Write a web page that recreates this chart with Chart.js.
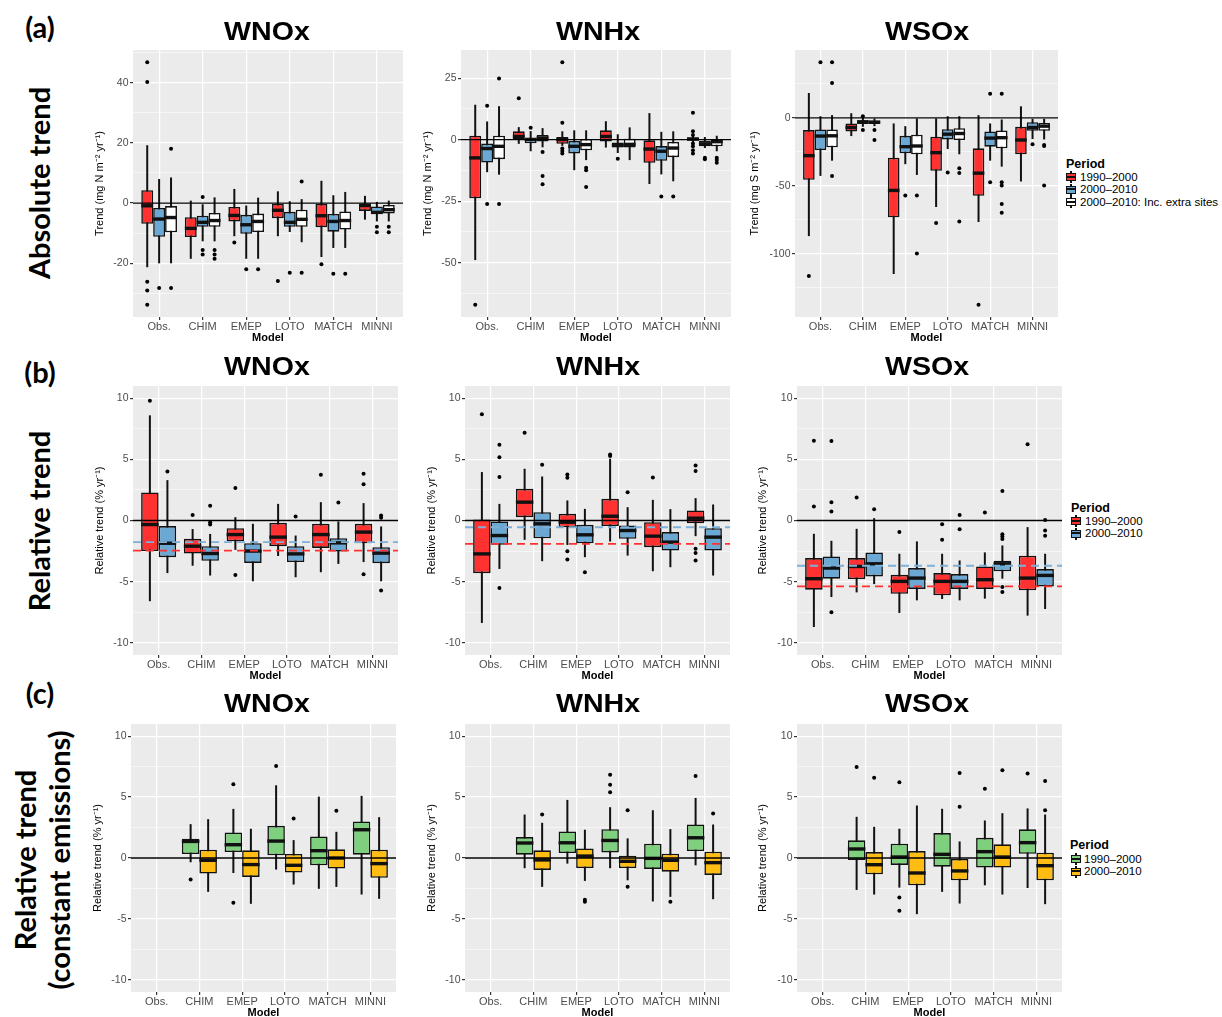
<!DOCTYPE html>
<html>
<head>
<meta charset="utf-8">
<script src="https://cdn.jsdelivr.net/npm/chart.js@4.4.1/dist/chart.umd.min.js"></script>
<style>
html,body{margin:0;padding:0;background:#fff;}
body{width:1222px;height:1017px;overflow:hidden;position:relative;font-family:"Liberation Sans",Arial,sans-serif;}
canvas.pnl{position:absolute;}
.ttl{position:absolute;font-weight:bold;font-size:26px;line-height:26px;white-space:nowrap;transform:translateX(-50%) scaleX(1.1);color:#000;}
.row{position:absolute;font-family:Lato,"Liberation Sans",sans-serif;font-weight:bold;font-size:29px;line-height:30px;white-space:nowrap;color:#000;transform:translate(-50%,-50%);}
.rot{transform:translate(-50%,-50%) rotate(-90deg);}
.lgt{position:absolute;font-weight:bold;font-size:12.5px;line-height:14px;color:#000;white-space:nowrap;}
.lgi{position:absolute;font-size:11.5px;line-height:13px;color:#000;white-space:nowrap;}
.key{position:absolute;width:10px;height:12px;}
.key .wh{position:absolute;left:4px;top:0;width:2px;height:12px;background:#111;}
.key .bx{position:absolute;left:0;top:2px;width:10px;height:8px;box-sizing:border-box;border:1.5px solid #111;}
.key .md{position:absolute;left:0;top:1.5px;width:100%;height:2px;background:#111;}
</style>
</head>
<body>
<script>
// ---------------- DATA ----------------
const CATEGORIES = ['Obs.', 'CHIM', 'EMEP', 'LOTO', 'MATCH', 'MINNI'];
const PERIODS_ABS = ['1990\u20132000', '2000\u20132010', '2000\u20132010: Inc. extra sites'];
const PERIODS_REL = ['1990\u20132000', '2000\u20132010'];
const SPECIES = ['WNOx', 'WNHx', 'WSOx'];

// each entry: [lower whisker, Q1, median, Q3, upper whisker] per category
// (a) absolute trend
const A_WNOX_P1 = [[-21.3,-6.9,-0.9,4.3,19.2],[-18.5,-11.3,-8.4,-4.7,0.8],[-11,-6.1,-4.1,-1.3,4.7],[-11,-5.0,-2.4,-0.3,3.9],[-17.9,-8.0,-4.2,-0.3,7.4],[-5.5,-2.6,-0.8,-0.1,2.4]];
const A_WNOX_P1_OUT = [[46.8,40.2,-26.1,-29,-33.8],[],[-13.1],[-25.9],[-20.3],[]];
const A_WNOX_P2 = [[-20,-11.2,-5.3,-1.6,8.0],[-12.7,-7.9,-6.4,-4.2,-0.4],[-18.5,-10.2,-7.2,-3.9,-0.8],[-9.6,-7.9,-6.4,-2.9,0.6],[-14.9,-9.5,-6.1,-3.6,2.6],[-6.1,-3.5,-3.1,-1.1,0.4]];
const A_WNOX_P2_OUT = [[-28.2],[2.0,-15.6,-17.1],[-22],[-23.1],[-23.5],[-7.9,-9.7]];
const A_WNOX_P3 = [[-20,-9.7,-4.8,-1.0,8.5],[-12.7,-7.9,-5.8,-3.3,1.9],[-18.5,-9.6,-6.1,-3.5,1.8],[-13,-7.9,-5.4,-2.2,1.3],[-14.9,-8.8,-5.8,-2.8,3.7],[-6.1,-3.5,-2.2,-0.6,0.8]];
const A_WNOX_P3_OUT = [[18,-28.2],[-15.6,-17.1,-18.5],[-22],[7.2,-23.1],[-23.5],[-7.9,-9.7]];

const A_WNHX_P1 = [[-48.9,-23.8,-7.4,1.6,14.2],[-1.7,0.3,1.3,3.4,5.1],[-2.5,-1.7,0.1,1.1,3.4],[-3.2,-0.7,1.3,3.8,7.5],[-18.0,-9.4,-3.8,0,10.8],[-1.2,-0.4,0.3,0.8,1.5]];
const A_WNHX_P1_OUT = [[-67.1],[16.8],[31.5,6.9,-3.6,-4.6,-5.6],[],[],[10.9,3.4,1.9,-1.6,-2.7,-4.3,-5.6]];
const A_WNHX_P2 = [[-13.2,-9.3,-3.6,-1.6,7.4],[-4.7,-1.5,0.1,0.7,3.5],[-12.4,-5.6,-2.7,-0.5,3.8],[-5.4,-3.2,-2.3,-1.1,2.2],[-14.1,-8.6,-4.7,-2.6,3.2],[-3.4,-2.7,-1.7,-0.4,1.1]];
const A_WNHX_P2_OUT = [[13.8,-26.1],[4.8],[],[-7.7],[-23.1],[-7.3,-7.9]];
const A_WNHX_P3 = [[-14.2,-7.9,-2.7,1.6,13.6],[-3.1,-0.7,0.7,1.9,4.7],[-8.3,-4.3,-2.0,0.3,3.8],[-8.3,-3.2,-1.9,0.4,5.0],[-16.9,-7.1,-3.4,-0.9,3.4],[-4.7,-2.7,-0.8,0.1,1.6]];
const A_WNHX_P3_OUT = [[24.9,-26.1],[-5.0,-14.8,-18.1],[-11.4,-12.4,-19.2],[],[-23.1],[-7.3,-8.3,-9.4]];

const A_WSOX_P1 = [[-87,-45.6,-27.8,-9.0,18.3],[-13.4,-10,-7.1,-4.1,3.4],[-114.9,-73.2,-53.4,-29.3,-4.1],[-65.6,-39,-25.6,-13.9,0],[-76.6,-57.3,-40.7,-22.4,2.0],[-46.8,-26.8,-16.3,-6.6,8.5]];
const A_WSOX_P1_OUT = [[-116.3],[],[],[-77.3],[-137.6],[]];
const A_WSOX_P2 = [[-42.7,-23.7,-13.4,-8.5,1.2],[-6.6,-4.6,-2.9,-2.0,0.3],[-34.1,-26.1,-21.2,-13.2,-6.1],[-22.9,-15.9,-12,-8.3,1.2],[-31.5,-21.2,-14.9,-10,-4.1],[-15.6,-9.5,-7.1,-3.2,-0.7]];
const A_WSOX_P2_OUT = [[41],[1.2,-9.0],[-57.1],[-40.2],[17.8,-47.3],[-19.5]];
const A_WSOX_P3 = [[-31.5,-21.7,-13.2,-8.5,2.0],[-6.1,-4.6,-3.2,-2.0,0],[-42,-26.8,-20.7,-12.4,0],[-26.8,-16.3,-11.5,-7.6,1.2],[-35.9,-22.4,-14.6,-9.3,-1.2],[-15.9,-9.5,-6.1,-3.7,-0.7]];
const A_WSOX_P3_OUT = [[41,25.6,-42.7],[-9.0,-16.3],[-57.1,-99.8],[-37.1,-40.5,-76.3],[17.8,-47.3,-49.8,-63.4,-69.8],[-20,-20.7,-49.8]];

// (b) relative trend
const B_WNOX_P1 = [[-6.6,-2.5,-0.33,2.3,8.6],[-3.7,-2.7,-2.1,-1.5,-0.7],[-2.4,-1.7,-1.15,-0.63,0.27],[-2.9,-2.1,-1.36,-0.19,1.36],[-4.23,-2.24,-1.15,-0.27,1.5],[-3.4,-1.86,-0.95,-0.27,1.42]];
const B_WNOX_P1_OUT = [[9.8],[0.46],[2.65,-4.45],[],[3.74],[3.82,2.97,-4.4]];
const B_WNOX_P2 = [[-4.3,-3.0,-1.86,-0.46,3.3],[-4.5,-3.3,-2.7,-2.1,-1.1],[-4.97,-3.47,-2.5,-1.86,-0.27],[-4.64,-3.4,-2.73,-2.1,-1.23],[-3.55,-2.54,-1.83,-1.45,-0.08],[-4.97,-3.49,-2.67,-2.18,-0.49]];
const B_WNOX_P2_OUT = [[4.0],[1.2,-0.14,-0.33],[],[0.33],[1.47],[0.41,0.22,-5.73]];
const B_WNOX_REF = [-2.46, -1.77];

const B_WNHX_P1 = [[-8.38,-4.31,-2.73,0.08,3.96],[-1.58,0.27,1.5,2.59,4.23],[-2.0,-0.55,-0.14,0.55,1.64],[-1.72,-0.46,0.35,1.77,5.05],[-4.15,-2.18,-1.28,-0.14,1.69],[-1.28,-0.22,0.19,0.82,1.83]];
const B_WNHX_P1_OUT = [[8.68],[7.18],[3.77,3.49,-2.51,-3.19],[5.4,5.27],[3.52],[4.5,4.04,-2.32,-2.65,-3.27]];
const B_WNHX_P2 = [[-3.96,-1.99,-1.23,-0.08,1.36],[-3.33,-1.45,-0.27,0.68,3.6],[-3.0,-1.86,-1.17,-0.35,0.95],[-2.87,-1.5,-0.82,-0.41,1.09],[-3.82,-2.46,-1.77,-0.95,0.93],[-4.5,-2.46,-1.36,-0.63,1.31]];
const B_WNHX_P2_OUT = [[6.19,5.18,3.55,-5.53],[4.56],[-4.23],[2.32],[],[]];
const B_WNHX_REF = [-1.91, -0.55];

const B_WSOX_P1 = [[-8.71,-5.66,-4.76,-3.07,-1.09],[-5.88,-4.79,-3.76,-3.07,-0.68],[-7.56,-5.99,-4.98,-4.44,-2.72],[-6.42,-6.12,-4.98,-4.3,-2.72],[-6.39,-5.6,-4.84,-3.76,-2.61],[-7.78,-5.71,-4.71,-2.88,-0.54]];
const B_WSOX_P1_OUT = [[6.53,1.14],[1.88],[-0.95],[-0.3,-1.58],[0.65],[6.23]];
const B_WSOX_P2 = [[-6.26,-4.76,-3.89,-2.94,-1.66],[-5.2,-4.57,-3.54,-2.61,0.19],[-6.53,-5.6,-4.71,-3.89,-1.71],[-6.53,-5.6,-4.98,-4.38,-3.27],[-4.76,-4.16,-3.54,-3.29,-2.04],[-7.24,-5.39,-4.49,-3.97,-2.72]];
const B_WSOX_P2_OUT = [[6.5,1.5,0.73,-7.51],[0.93],[],[0.44,-0.71],[2.42,-1.12,-1.31,-1.52,-5.44,-5.85],[0.05,-0.82,-1.25]];
const B_WSOX_REF = [-5.39, -3.7];

// (c) relative trend, constant emissions (no observations)
const C_WNOX_P1 = [null,[-0.35,0.33,1.36,1.58,2.78],[-1.23,0.49,1.09,2.1,4.03],[-0.95,0.22,1.39,2.64,5.97],[-2.53,-0.6,0.6,1.77,5.04],[-3.0,0.27,2.32,3.0,5.1]];
const C_WNOX_P1_OUT = [[],[-1.77],[6.05,-3.68],[7.55],[],[]];
const C_WNOX_P2 = [null,[-2.78,-1.28,-0.19,0.68,3.19],[-3.76,-1.55,-0.54,0.63,2.4],[-2.18,-1.2,-0.6,0.33,1.47],[-2.37,-0.87,0,0.71,2.15],[-3.35,-1.63,-0.46,0.68,3.35]];
const C_WNOX_P2_OUT = [[],[],[],[3.24],[3.87],[]];

const C_WNHX_P1 = [null,[-0.84,0.27,1.23,1.72,3.57],[-0.46,0.41,1.25,2.18,4.77],[-0.84,0.46,1.44,2.37,4.17],[-3.57,-0.9,-0.03,1.17,3.92],[-0.6,0.57,1.66,2.75,4.93]];
const C_WNHX_P1_OUT = [[],[],[],[6.84,6.02,5.4],[],[6.73]];
const C_WNHX_P2 = [null,[-2.37,-0.98,-0.16,0.63,2.89],[-1.88,-0.82,0.16,0.79,2.32],[-1.83,-0.82,-0.27,0.19,1.61],[-3.19,-1.12,-0.19,0.35,2.37],[-3.38,-1.39,-0.38,0.52,2.75]];
const C_WNHX_P2_OUT = [[],[3.57],[-3.43,-3.6],[3.92,-2.37],[-3.6],[3.65]];

const C_WSOX_P1 = [null,[-2.62,-0.16,0.74,1.45,3.38],[-2.43,-0.57,0.08,1.17,2.4],[-2.78,-0.71,0.3,2.05,4.04],[-2.24,-0.79,0.52,1.66,3.08],[-2.46,0.35,1.26,2.35,4.07]];
const C_WSOX_P1_OUT = [[],[7.48],[6.22,-3.25,-4.34],[],[5.68],[6.93]];
const C_WSOX_P2 = [null,[-3.0,-1.34,-0.55,0.49,2.56],[-4.61,-2.24,-1.23,0.57,4.31],[-3.74,-1.83,-1.06,-0.08,1.36],[-3.0,-0.79,0.08,1.12,3.68],[-3.79,-1.83,-0.63,0.44,3.57]];
const C_WSOX_P2_OUT = [[],[6.58],[],[6.98,4.2],[7.2],[6.33,3.93]];

const REL_LIMITS = [-10, 10];

// ---------------- STYLE / LAYOUT ----------------
const COLORS_AB = ['#FF3131', '#6BA8D3', '#FFFFFF'];
const COLORS_C = ['#7ECF7E', '#FFBD14'];
const REF_COLORS = ['#FF3131', '#7FB0D8'];
const LINE = '#111111';
const CAT_PCT = 0.82;
const XMIN = -0.6, XMAX = 5.6;
const PT = 8, PR = 6, XH = 28;
const MEDIAN_PX = 3.4, WHISKER_PX = 2.0, BOX_BORDER = 1.6;

Chart.defaults.font.family = '"Liberation Sans", Arial, sans-serif';

const Y_ABS = ['Trend (mg N m\u207B\u00B2 yr\u207B\u00B9)', 'Trend (mg N m\u207B\u00B2 yr\u207B\u00B9)', 'Trend (mg S m\u207B\u00B2 yr\u207B\u00B9)'];
const Y_REL = 'Relative trend (% yr\u207B\u00B9)';

const PANELS = [
  {cl:93,  L:133, R:403,  T:50,  B:317, yTitle:Y_ABS[0], major:20, series:[[A_WNOX_P1,A_WNOX_P1_OUT],[A_WNOX_P2,A_WNOX_P2_OUT],[A_WNOX_P3,A_WNOX_P3_OUT]], colors:COLORS_AB},
  {cl:421, L:461, R:731,  T:50,  B:317, yTitle:Y_ABS[1], major:25, series:[[A_WNHX_P1,A_WNHX_P1_OUT],[A_WNHX_P2,A_WNHX_P2_OUT],[A_WNHX_P3,A_WNHX_P3_OUT]], colors:COLORS_AB},
  {cl:748, L:795, R:1058, T:50,  B:317, yTitle:Y_ABS[2], major:50, series:[[A_WSOX_P1,A_WSOX_P1_OUT],[A_WSOX_P2,A_WSOX_P2_OUT],[A_WSOX_P3,A_WSOX_P3_OUT]], colors:COLORS_AB},
  {cl:93,  L:133, R:398,  T:386, B:655, yTitle:Y_REL, major:5, limits:REL_LIMITS, ref:B_WNOX_REF, series:[[B_WNOX_P1,B_WNOX_P1_OUT],[B_WNOX_P2,B_WNOX_P2_OUT]], colors:COLORS_AB},
  {cl:425, L:465, R:730,  T:386, B:655, yTitle:Y_REL, major:5, limits:REL_LIMITS, ref:B_WNHX_REF, series:[[B_WNHX_P1,B_WNHX_P1_OUT],[B_WNHX_P2,B_WNHX_P2_OUT]], colors:COLORS_AB},
  {cl:756, L:797, R:1062, T:386, B:655, yTitle:Y_REL, major:5, limits:REL_LIMITS, ref:B_WSOX_REF, series:[[B_WSOX_P1,B_WSOX_P1_OUT],[B_WSOX_P2,B_WSOX_P2_OUT]], colors:COLORS_AB},
  {cl:91,  L:131, R:396,  T:724, B:992, yTitle:Y_REL, major:5, limits:REL_LIMITS, series:[[C_WNOX_P1,C_WNOX_P1_OUT],[C_WNOX_P2,C_WNOX_P2_OUT]], colors:COLORS_C},
  {cl:425, L:465, R:730,  T:724, B:992, yTitle:Y_REL, major:5, limits:REL_LIMITS, series:[[C_WNHX_P1,C_WNHX_P1_OUT],[C_WNHX_P2,C_WNHX_P2_OUT]], colors:COLORS_C},
  {cl:756, L:797, R:1062, T:724, B:992, yTitle:Y_REL, major:5, limits:REL_LIMITS, series:[[C_WSOX_P1,C_WSOX_P1_OUT],[C_WSOX_P2,C_WSOX_P2_OUT]], colors:COLORS_C},
];

const panelBg = {
  id: 'panelBg',
  beforeDraw(chart) {
    const a = chart.chartArea, ctx = chart.ctx;
    ctx.save(); ctx.fillStyle = '#EBEBEB';
    ctx.fillRect(a.left, a.top, a.right - a.left, a.bottom - a.top);
    ctx.restore();
  }
};

function yRange(p) {
  if (p.limits) {
    const span = p.limits[1] - p.limits[0];
    return [p.limits[0] - 0.05 * span, p.limits[1] + 0.05 * span];
  }
  let lo = Infinity, hi = -Infinity;
  p.series.forEach(([st, out]) => {
    st.forEach(s => { if (s) { lo = Math.min(lo, ...s); hi = Math.max(hi, ...s); } });
    out.forEach(o => o.forEach(v => { lo = Math.min(lo, v); hi = Math.max(hi, v); }));
  });
  const span = hi - lo;
  return [lo - 0.05 * span, hi + 0.05 * span];
}

function isMajor(v, major) {
  const r = v / major;
  return Math.abs(r - Math.round(r)) < 1e-6;
}

function build(p) {
  const cv = document.createElement('canvas');
  cv.className = 'pnl';
  const top = p.T - PT;
  const W = p.R - p.cl + PR;
  const H = p.B - top + XH;
  cv.width = W; cv.height = H;
  cv.style.left = p.cl + 'px'; cv.style.top = top + 'px';
  cv.style.width = W + 'px'; cv.style.height = H + 'px';
  document.body.appendChild(cv);

  const [ymin, ymax] = yRange(p);
  const major = p.major;
  const n = p.series.length;
  const unitPx = (p.R - p.L) / (XMAX - XMIN);
  const chunkPx = unitPx * CAT_PCT / n;
  const whiskerPct = WHISKER_PX / chunkPx;
  const halfMedian = (MEDIAN_PX / 2) * (ymax - ymin) / (p.B - p.T);  // half line thickness in data units
  const datasets = [];

  p.series.forEach(([stats, outs], i) => {
    const stack = 's' + i;
    const boxes = [], meds = [], whisk = [], pts = [];
    const dx = (i + 0.5 - n / 2) * CAT_PCT / n;
    stats.forEach((s, c) => {
      if (!s) return;
      boxes.push({x: c, y: [s[1], s[3]]});
      meds.push({x: c, y: [s[2] - halfMedian, s[2] + halfMedian]});
      whisk.push({x: c, y: [s[0], s[4]]});
    });
    outs.forEach((o, c) => o.forEach(v => pts.push({x: c + dx, y: v})));
    datasets.push({type: 'bar', stack, order: 3, data: boxes, backgroundColor: p.colors[i], borderColor: LINE,
      borderWidth: BOX_BORDER, borderSkipped: false, inflateAmount: 0, categoryPercentage: CAT_PCT, barPercentage: 1});
    datasets.push({type: 'bar', stack, order: 2, data: meds, backgroundColor: LINE, borderWidth: 0,
      inflateAmount: 0, categoryPercentage: CAT_PCT, barPercentage: 1});
    datasets.push({type: 'bar', stack, order: 4, data: whisk, backgroundColor: LINE, borderWidth: 0,
      categoryPercentage: CAT_PCT, barPercentage: whiskerPct});
    datasets.push({type: 'scatter', order: 1, data: pts, pointRadius: 2, pointHoverRadius: 2,
      backgroundColor: '#000', borderWidth: 0});
  });

  datasets.push({type: 'line', order: 0, data: [{x: XMIN, y: 0}, {x: XMAX, y: 0}],
    borderColor: '#000', borderWidth: 1.3, pointRadius: 0, fill: false});
  if (p.ref) {
    p.ref.forEach((v, i) => datasets.push({type: 'line', order: 0, data: [{x: XMIN, y: v}, {x: XMAX, y: v}],
      borderColor: REF_COLORS[i], borderWidth: 1.8, borderDash: [8, 5], pointRadius: 0, fill: false}));
  }

  new Chart(cv, {
    type: 'bar',
    data: {datasets},
    plugins: [panelBg],
    options: {
      responsive: false, animation: false, events: [], devicePixelRatio: 1,
      layout: {padding: {top: PT, right: PR, left: 0, bottom: 0}},
      plugins: {legend: {display: false}, tooltip: {enabled: false}},
      scales: {
        x: {
          type: 'linear', min: XMIN, max: XMAX, offset: false,
          grid: {offset: false, color: '#FFFFFF', lineWidth: 1.2, tickColor: '#333333', tickLength: 3, drawTicks: true},
          border: {display: false},
          ticks: {autoSkip: false, maxRotation: 0, padding: 0, color: '#4D4D4D', font: {size: 11},
            callback: (v, idx) => CATEGORIES[idx]},
          title: {display: true, text: 'Model', color: '#000', font: {size: 11, weight: 'bold'}, padding: {top: 0, bottom: 0}},
          afterBuildTicks: (s) => { s.ticks = CATEGORIES.map((_, k) => ({value: k})); },
          afterFit: (s) => { s.height = XH; }
        },
        y: {
          type: 'linear', min: ymin, max: ymax, stacked: false, beginAtZero: false,
          grid: {color: '#FFFFFF', drawTicks: true, tickLength: 3,
            lineWidth: (ctx) => (ctx.tick && isMajor(ctx.tick.value, major)) ? 1.2 : 0.55,
            tickColor: (ctx) => (ctx.tick && isMajor(ctx.tick.value, major)) ? '#333333' : 'rgba(0,0,0,0)'},
          border: {display: false},
          ticks: {autoSkip: false, padding: 1.5, color: '#4D4D4D', font: {size: 10.5},
            callback: (v) => isMajor(v, major) ? String(Math.round(v)) : ''},
          title: {display: true, text: p.yTitle, color: '#000', font: {size: 11}, padding: {top: 0, bottom: 0}},
          afterBuildTicks: (s) => {
            const half = major / 2;
            const t = [];
            for (let k = Math.ceil(ymin / half); k <= Math.floor(ymax / half); k++) t.push({value: k * half});
            s.ticks = t;
          },
          afterFit: (s) => { s.width = p.L - p.cl; }
        }
      }
    }
  });
}

PANELS.forEach(build);

// ---------------- TEXT: titles, row labels, legends ----------------
function addDiv(cls, text, style) {
  const d = document.createElement('div');
  d.className = cls; d.textContent = text;
  Object.assign(d.style, style);
  document.body.appendChild(d);
  return d;
}
const TITLE_X = [267, 598, 927];
const TITLE_Y = [31, 366, 703];
TITLE_Y.forEach(cy => SPECIES.forEach((s, i) => addDiv('ttl', s, {left: TITLE_X[i] + 'px', top: (cy - 13) + 'px'})));

addDiv('row', '(a)', {left: '40px', top: '27px'});
addDiv('row rot', 'Absolute trend', {left: '39px', top: '183px'});
addDiv('row', '(b)', {left: '40px', top: '372px'});
addDiv('row rot', 'Relative trend', {left: '39px', top: '521px'});
addDiv('row', '(c)', {left: '40px', top: '693px'});
addDiv('row rot', 'Relative trend', {left: '25px', top: '860px'});
addDiv('row rot', '(constant emissions)', {left: '59px', top: '860px'});

function legend(x, titleY, keyX, textX, ys, labels, colors) {
  addDiv('lgt', 'Period', {left: x + 'px', top: (titleY - 7) + 'px'});
  ys.forEach((y, i) => {
    const k = document.createElement('div');
    k.className = 'key';
    k.style.left = keyX + 'px'; k.style.top = (y - 6) + 'px';
    const wh = document.createElement('div'); wh.className = 'wh';
    const bx = document.createElement('div'); bx.className = 'bx'; bx.style.background = colors[i];
    const md = document.createElement('div'); md.className = 'md';
    bx.appendChild(md); k.appendChild(wh); k.appendChild(bx);
    document.body.appendChild(k);
    addDiv('lgi', labels[i], {left: textX + 'px', top: (y - 6.5) + 'px'});
  });
}
legend(1066, 164, 1066, 1080, [177, 189.5, 202], PERIODS_ABS, COLORS_AB);
legend(1071, 507.5, 1071, 1085, [521, 533.5], PERIODS_REL, COLORS_AB);
legend(1070, 845, 1071, 1084, [859, 871.5], PERIODS_REL, COLORS_C);
</script>
</body>
</html>
